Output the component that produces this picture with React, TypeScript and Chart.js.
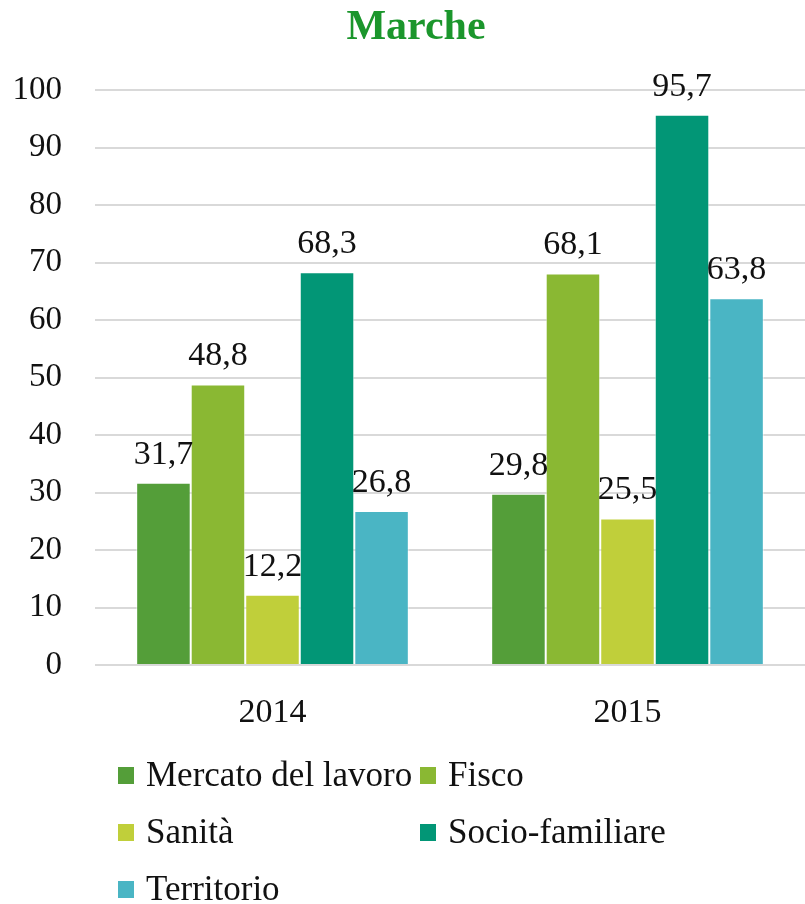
import React, { useEffect, useRef } from "react";
import { Chart, registerables } from "chart.js";

Chart.register(...registerables);

const titleText = "Marche";
const categories = ["2014", "2015"];
const seriesNames = ["Mercato del lavoro", "Fisco", "Sanità", "Socio-familiare", "Territorio"];
const mercato = [31.7, 29.8];
const fisco = [48.8, 68.1];
const sanita = [12.2, 25.5];
const socio = [68.3, 95.7];
const territorio = [26.8, 63.8];
const seriesColors = ["#549E39", "#8AB833", "#C0CF3A", "#029676", "#4AB5C4"];
const yMin = 0;
const yMax = 100;
const yStep = 10;

const FONT = "'Liberation Serif', 'DejaVu Serif', serif";

const fmt = (v: number) => v.toFixed(1).replace(".", ",");

const titlePlugin = {
  id: "customTitle",
  afterDraw(chart: any) {
    const ctx = chart.ctx;
    ctx.save();
    ctx.font = `bold 42px ${FONT}`;
    ctx.fillStyle = "#1B962C";
    ctx.textAlign = "center";
    ctx.textBaseline = "alphabetic";
    ctx.fillText(titleText, 416, 39);
    ctx.restore();
  },
};

const dataLabelPlugin = {
  id: "dataLabels",
  afterDatasetsDraw(chart: any) {
    const ctx = chart.ctx;
    ctx.save();
    ctx.font = `34px ${FONT}`;
    ctx.fillStyle = "#111";
    ctx.textAlign = "center";
    ctx.textBaseline = "alphabetic";
    chart.data.datasets.forEach((ds: any, i: number) => {
      const meta = chart.getDatasetMeta(i);
      meta.data.forEach((bar: any, j: number) => {
        ctx.fillText(fmt(ds.data[j]), bar.x, bar.y - 19);
      });
    });
    ctx.restore();
  },
};

const gridLegendPlugin = {
  id: "gridLegend",
  afterDraw(chart: any) {
    const ctx = chart.ctx;
    const area = chart.chartArea;
    ctx.save();
    ctx.font = `35px ${FONT}`;
    ctx.textBaseline = "alphabetic";
    ctx.textAlign = "left";
    const colX = [118, 420];
    const rowY0 = area.bottom + 110;
    const rowH = 57;
    chart.data.datasets.forEach((ds: any, i: number) => {
      const col = i % 2;
      const row = Math.floor(i / 2);
      const x = colX[col];
      const y = rowY0 + row * rowH;
      ctx.fillStyle = ds.backgroundColor;
      ctx.fillRect(x, y - 8, 16, 17);
      ctx.fillStyle = "#111";
      ctx.fillText(ds.label, x + 28, y + 11);
    });
    ctx.restore();
  },
};

export default function App() {
  const ref = useRef<HTMLCanvasElement>(null);
  useEffect(() => {
    document.body.style.margin = "0";
    const seriesValues = [mercato, fisco, sanita, socio, territorio];
    const chart = new Chart(ref.current!, {
      type: "bar",
      data: {
        labels: categories,
        datasets: seriesNames.map((name, i) => ({
          label: name,
          data: seriesValues[i],
          backgroundColor: seriesColors[i],
          borderColor: "rgba(255,255,255,0.55)",
          borderWidth: 1,
        })),
      },
      options: {
        responsive: false,
        animation: false,
        layout: { padding: { top: 90, bottom: 159, left: 0, right: -6 } },
        plugins: {
          legend: { display: false },
          tooltip: { enabled: false },
          title: { display: false },
        },
        datasets: {
          bar: { barPercentage: 1, categoryPercentage: 0.768 },
        },
        scales: {
          x: {
            grid: { display: false },
            border: { display: false },
            ticks: {
              color: "#111",
              font: { family: FONT, size: 34 },
              padding: 20,
            },
            afterFit: (s: any) => {
              s.height = 80;
            },
          },
          y: {
            min: yMin,
            max: yMax,
            grid: { color: "#D9D9D9", lineWidth: 2, drawTicks: false },
            border: { display: false },
            ticks: {
              stepSize: yStep,
              color: "#111",
              font: { family: FONT, size: 33 },
              padding: 33,
            },
            afterFit: (s: any) => {
              s.width = 95;
            },
          },
        },
      },
      plugins: [titlePlugin, dataLabelPlugin, gridLegendPlugin],
    });
    return () => chart.destroy();
  }, []);
  return <canvas ref={ref} width={805} height={904} />;
}
